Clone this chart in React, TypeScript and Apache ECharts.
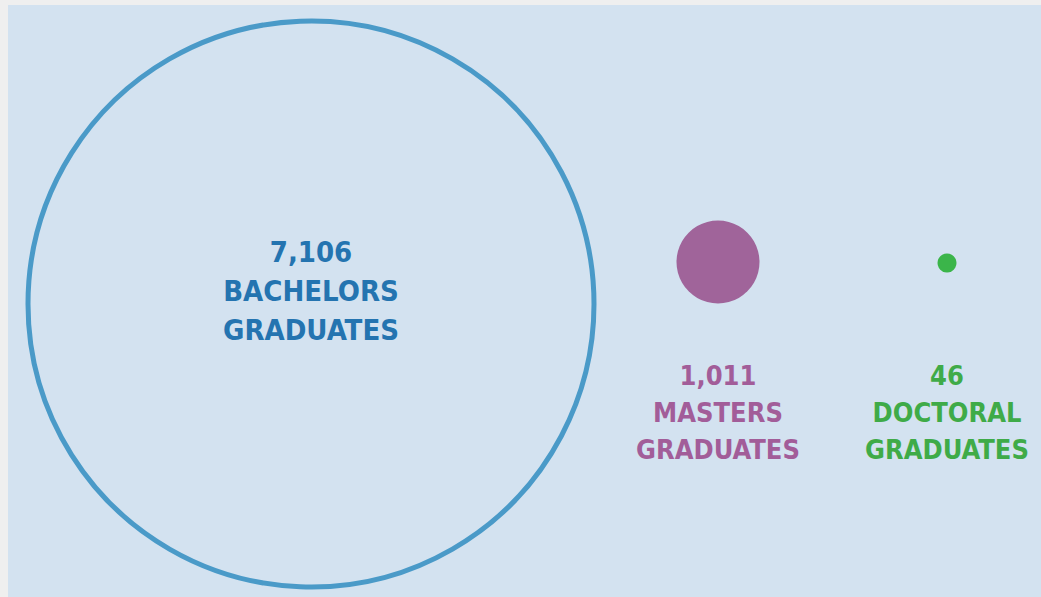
import React, { useEffect, useRef } from "react";
import * as echarts from "echarts";

// ---- data ----
const categories = ["BACHELORS", "MASTERS", "DOCTORAL"];
const graduates = [7106, 1011, 46];
const suffix = "GRADUATES";

// ---- layout / style (not data) ----
const W = 1033;
const H = 592;
const centerX = [303, 710, 939];
const centerY = [299, 257, 258];
const diameters = [566, 83, 19];
const labelDistance = [0, 53, 84];
const textColors = ["#2474b0", "#a25d99", "#3fab48"];
const markColors = ["#4a9ac8", "#a0649a", "#3bb54a"];
const FONT = "'DejaVu Sans Condensed', 'Liberation Sans Narrow', sans-serif";

export default function App() {
  const ref = useRef<HTMLDivElement>(null);

  useEffect(() => {
    document.documentElement.style.overflow = "hidden";
    document.body.style.overflow = "hidden";
    document.body.style.background = "#efefef";
    const chart = echarts.init(ref.current!, null, { renderer: "svg", width: W, height: H });

    const data = categories.map((name, i) => {
      const isMain = i === 0;
      return {
        name,
        value: [centerX[i], centerY[i], graduates[i]],
        symbolSize: diameters[i],
        itemStyle: isMain
          ? { color: "rgba(0,0,0,0)", borderColor: markColors[i], borderWidth: 5, opacity: 1 }
          : { color: markColors[i], borderWidth: 0, opacity: 1 },
        label: {
          show: true,
          position: isMain ? "inside" : "bottom",
          distance: labelDistance[i],
          offset: isMain ? [0, -13] : [0, 0],
          formatter: () =>
            `${graduates[i].toLocaleString("en-US")}\n${name}\n${suffix}`,
          color: textColors[i],
          fontFamily: FONT,
          fontWeight: "bold",
          fontSize: isMain ? 29 : 27,
          lineHeight: isMain ? 39 : 37,
          align: "center",
        },
      };
    });

    chart.setOption({
      animation: false,
      backgroundColor: "#d3e2f0",
      grid: { left: 0, right: 0, top: 0, bottom: 0 },
      xAxis: { type: "value", min: 0, max: W, show: false },
      yAxis: { type: "value", min: 0, max: H, inverse: true, show: false },
      series: [
        {
          type: "scatter",
          symbol: "circle",
          data,
          itemStyle: { opacity: 1 },
          emphasis: { disabled: true },
        },
      ],
    });

    return () => chart.dispose();
  }, []);

  return (
    <div
      ref={ref}
      style={{ position: "fixed", left: 8, top: 5, width: W, height: H }}
    />
  );
}
